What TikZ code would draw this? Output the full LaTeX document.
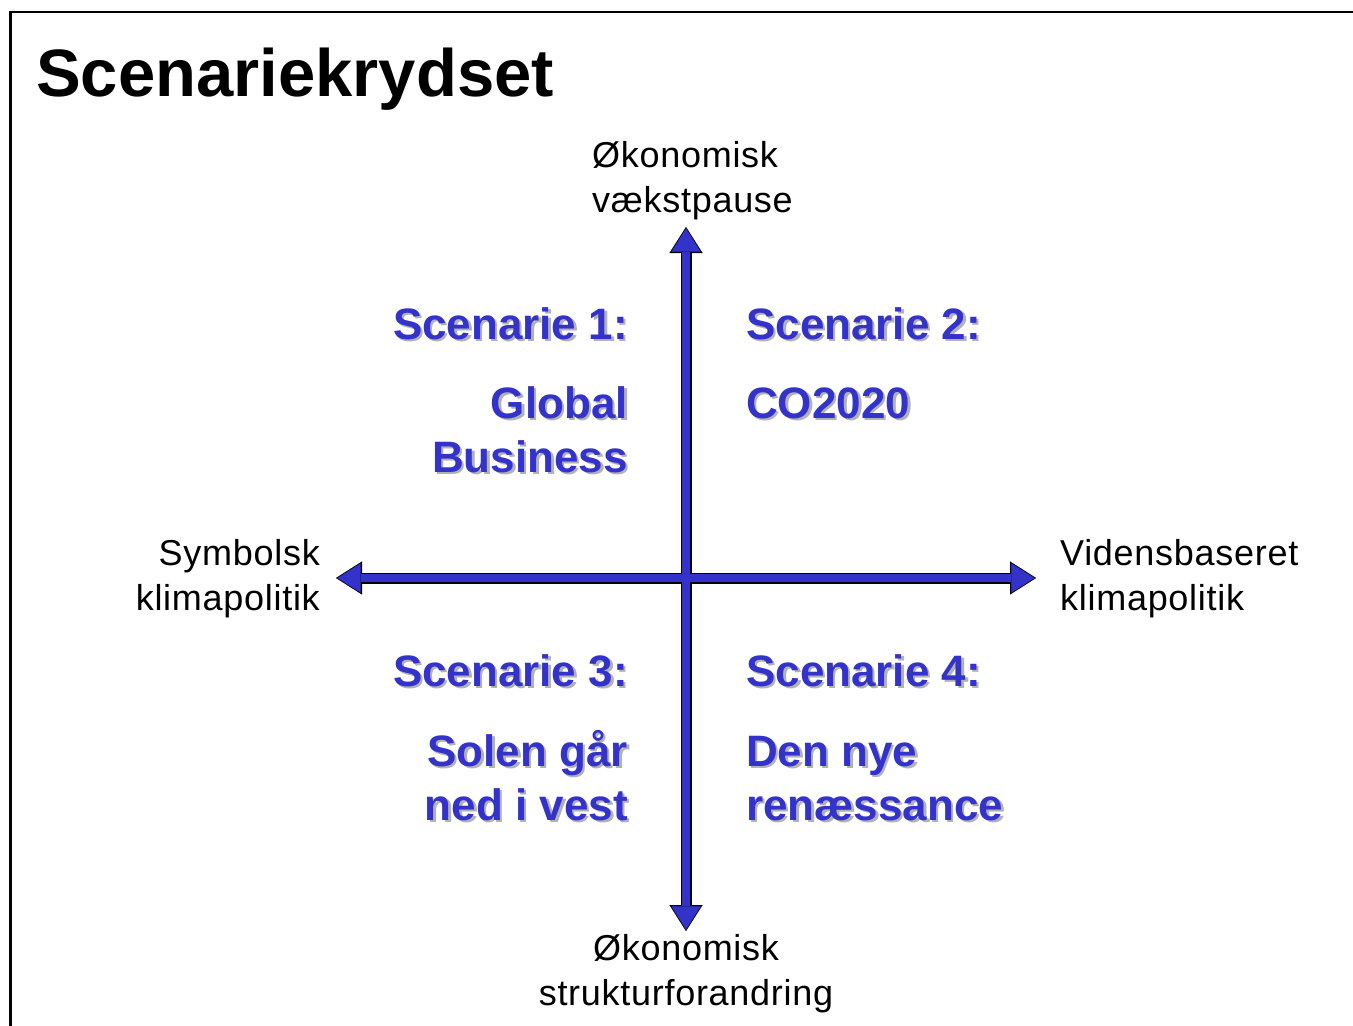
\documentclass[tikz,border=0pt]{standalone}
\usepackage{fontspec}
\setmainfont{Liberation Sans}
\newfontfamily\axisfont[LetterSpace=2]{Liberation Sans}
\usepackage{xcolor}
\usetikzlibrary{arrows.meta}

\definecolor{scenblue}{RGB}{51,51,204}
\definecolor{shadowgray}{RGB}{178,178,178}

% scenario text with a soft drop shadow
\newcommand{\shadownode}[4]{%
  \node[#2, text=shadowgray, xshift=2.5pt, yshift=-2.5pt] at (#3) {#4};
  \node[#2] (#1) at (#3) {#4};}

\begin{document}
\begin{tikzpicture}[x=1pt, y=-1pt,
        every node/.style={inner sep=0pt},
        axislabel/.style={font=\axisfont\fontsize{36}{45}\selectfont, text=black},
        scen/.style={font=\fontsize{44}{54}\selectfont\bfseries, text=scenblue},
        scenR/.style={scen, anchor=base east, align=right},
        scenL/.style={scen, anchor=base west, align=left},
        axisedge/.style={line width=11pt, draw=black,
          {Triangle[length=26pt,width=33pt,line width=0.1pt]}-{Triangle[length=26pt,width=33pt,line width=0.1pt]}},
        axisfill/.style={line width=8.4pt, draw=scenblue, shorten >=1.6pt, shorten <=1.6pt,
          {Triangle[length=23pt,width=29pt,line width=0.1pt]}-{Triangle[length=23pt,width=29pt,line width=0.1pt]}}]
      \useasboundingbox (0,0) rectangle (1353,1026);
      \draw[line width=2.5pt] (1353,12) -- (10.5,12) -- (10.5,1026);

      \node (title) [anchor=base west, font=\fontsize{67}{80}\selectfont\bfseries] at (36,96) {Scenariekrydset};

      % the two axes
      \coordinate (top) at (686,227);
      \coordinate (bottom) at (686,931);
      \coordinate (left) at (336,578);
      \coordinate (right) at (1036,578);
      \draw[axisedge] (left) -- (right);
      \draw[axisedge] (bottom) -- (top);
      \draw[axisfill] (left) -- (right);
      \draw[axisfill] (bottom) -- (top);

      % axis ends (base = last line)
      \node (vaekst) [axislabel, anchor=base west, align=left] at (592,212) {Økonomisk\\vækstpause};
      \node (struktur) [axislabel, anchor=base, align=center] at (686,1005) {Økonomisk\\strukturforandring};
      \node (symbolsk) [axislabel, anchor=base east, align=right] at (320,610) {Symbolsk\\klimapolitik};
      \node (viden) [axislabel, anchor=base west, align=left] at (1060,610) {Vidensbaseret\\klimapolitik};

      % the four scenarios
      \shadownode{sc1}{scenR}{628,339}{Scenarie 1:}
      \shadownode{global}{scenR}{628,472}{Global\\Business}
      \shadownode{sc2}{scenL}{746,339}{Scenarie 2:}
      \shadownode{co}{scenL}{746,418}{CO2020}
      \shadownode{sc3}{scenR}{628,686}{Scenarie 3:}
      \shadownode{solen}{scenR}{628,820}{Solen går\\ned i vest}
      \shadownode{sc4}{scenL}{746,686}{Scenarie 4:}
      \shadownode{renaes}{scenL}{746,820}{Den nye\\renæssance}
    \end{tikzpicture}
\end{document}
